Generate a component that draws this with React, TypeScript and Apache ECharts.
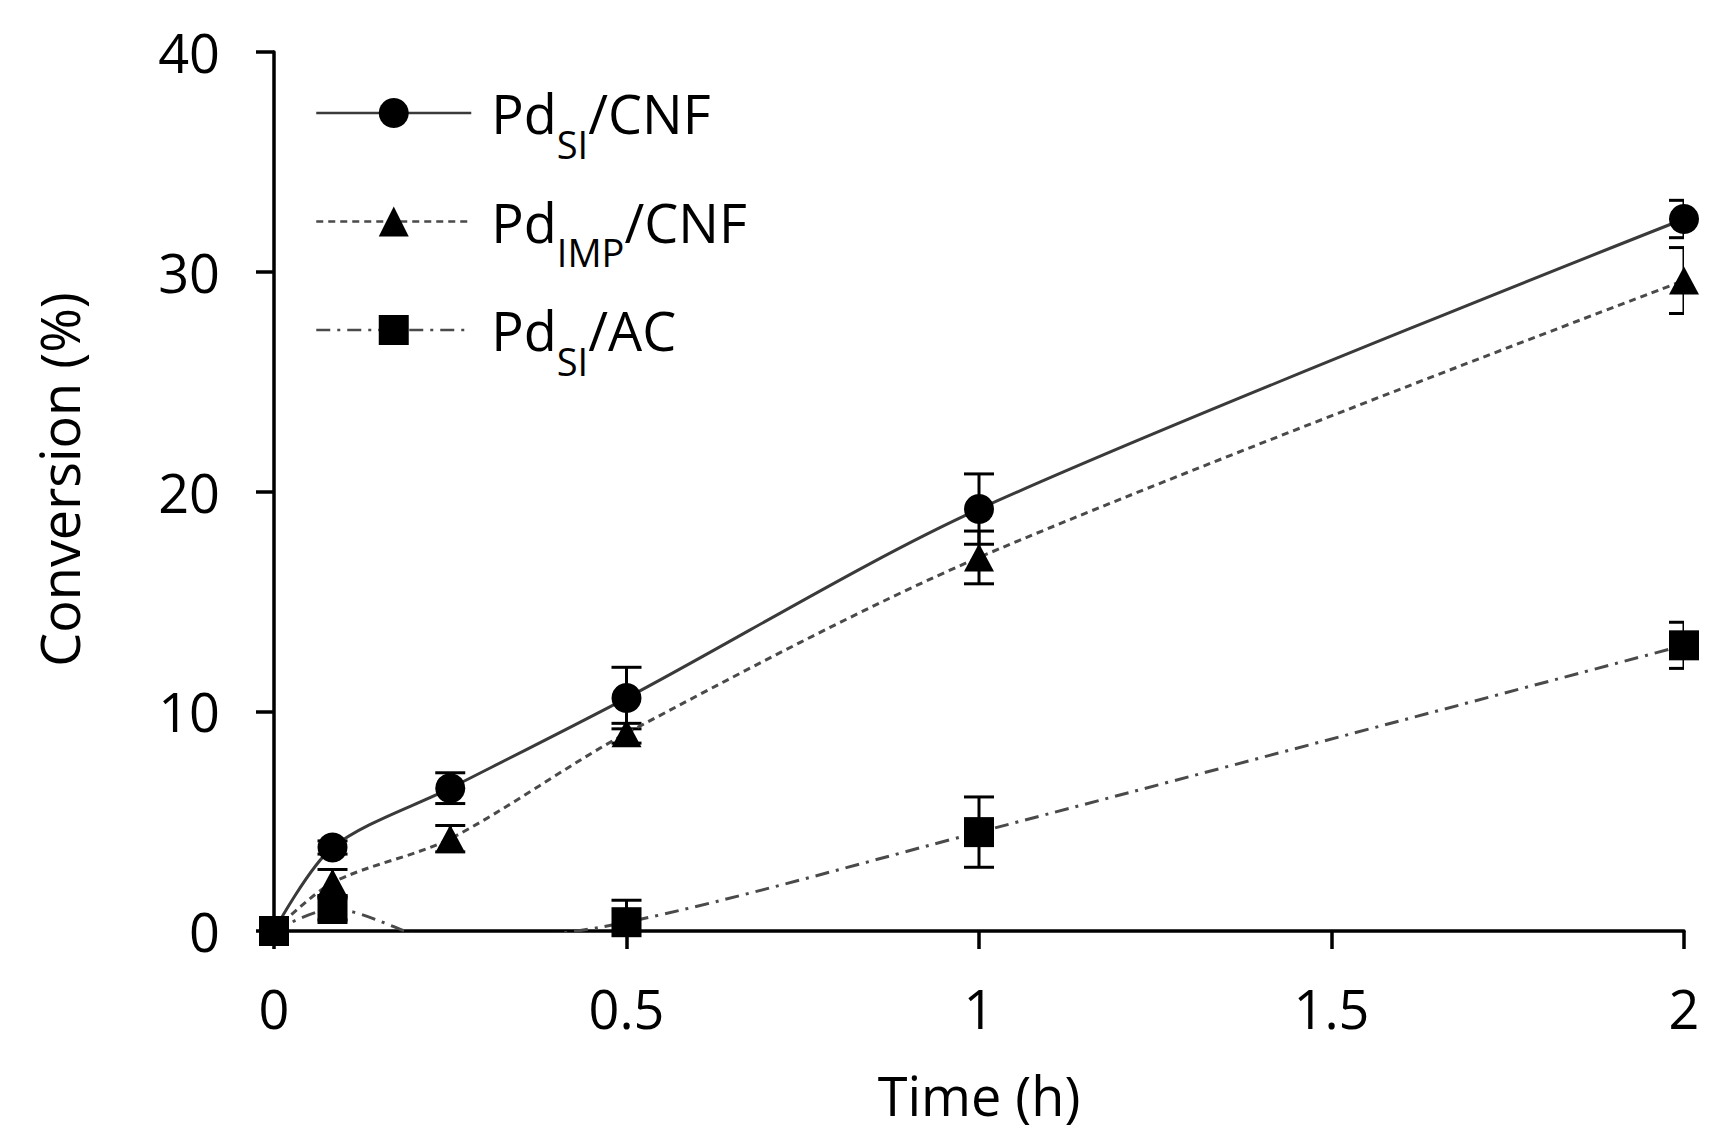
import React, { useEffect, useRef } from 'react';
import * as echarts from 'echarts';

// ---- data ----
const times = [0, 0.083, 0.25, 0.5, 1, 2];
const siCnf = [0, 3.8, 6.5, 10.6, 19.2, 32.4];
const siCnfErr = [0, 0.3, 0.7, 1.4, 1.6, 0.85];
const impCnf = [0, 2.2, 4.2, 9.0, 17.0, 29.6];
const impCnfErr = [0, 0.6, 0.6, 0.45, 1.2, 1.5];
const siAc = [0, 1.0, -0.5, 0.4, 4.5, 13.0];
const siAcErr = [0, 0.5, 0, 1.0, 1.6, 1.05];

const seriesNames = ['PdSI/CNF', 'PdIMP/CNF', 'PdSI/AC'];
const legendRich = ['{m|Pd}{s|SI}/CNF', '{m|Pd}{s|IMP}/CNF', '{m|Pd}{s|SI}/AC'];
const xTitle = 'Time (h)';
const yTitle = 'Conversion (%)';

const FONT = '"Open Sans", "Noto Sans", sans-serif';

function pairs(vals: number[]) {
  return times.map((t, i) => [t, vals[i]]);
}
function errData(vals: number[], errs: number[]) {
  return times.map((t, i) => [t, vals[i] - errs[i], vals[i] + errs[i], errs[i]]);
}

const errorBarSeries = (vals: number[], errs: number[]) => ({
  type: 'custom',
  data: errData(vals, errs),
  encode: { x: 0, y: [1, 2] },
  clip: true,
  z: 4,
  silent: true,
  renderItem: (params: any, api: any) => {
    const e = api.value(3);
    if (!e) return { type: 'group', children: [] };
    const x = api.value(0);
    const lo = api.coord([x, api.value(1)]);
    const hi = api.coord([x, api.value(2)]);
    const hw = 15;
    const st = { stroke: '#000', lineWidth: 3 };
    return {
      type: 'group',
      children: [
        { type: 'line', shape: { x1: hi[0], y1: hi[1], x2: lo[0], y2: lo[1] }, style: st },
        { type: 'line', shape: { x1: hi[0] - hw, y1: hi[1], x2: hi[0] + hw, y2: hi[1] }, style: st },
        { type: 'line', shape: { x1: lo[0] - hw, y1: lo[1], x2: lo[0] + hw, y2: lo[1] }, style: st },
      ],
    };
  },
});

export default function App() {
  const ref = useRef<HTMLDivElement>(null);
  useEffect(() => {
    document.body.style.margin = '0';
    const chart = echarts.init(ref.current!, null, { renderer: 'svg' });
    const legendMap: Record<string, string> = {};
    seriesNames.forEach((n, i) => (legendMap[n] = legendRich[i]));
    const axisLineStyle = { color: '#000', width: 3.5 };
    chart.setOption({
      animation: false,
      backgroundColor: '#fff',
      grid: { left: 274, top: 52, width: 1410, height: 879, containLabel: false, outerBoundsMode: 'none' },
      legend: {
        orient: 'vertical',
        left: 315,
        top: 86,
        padding: 0,
        itemGap: 32,
        itemWidth: 155,
        itemHeight: 37.5,
        selectedMode: false,
        data: seriesNames,
        formatter: (n: string) => legendMap[n],
        lineStyle: { width: 2.5 },
        textStyle: {
          fontFamily: FONT,
          fontSize: 54,
          color: '#000',
          rich: {
            m: { fontFamily: FONT, fontSize: 54, color: '#000', padding: [0, 0, 0, 15] },
            s: { fontFamily: FONT, fontSize: 38, color: '#000', padding: [61, 0, 0, 0] },
          },
        },
      },
      xAxis: {
        type: 'value',
        min: 0,
        max: 2,
        interval: 0.5,
        name: xTitle,
        nameLocation: 'middle',
        nameGap: 137,
        nameTextStyle: { fontFamily: FONT, fontSize: 54, color: '#000' },
        axisLine: { show: true, lineStyle: axisLineStyle },
        axisTick: { show: true, inside: false, length: 18, lineStyle: axisLineStyle },
        axisLabel: { fontFamily: FONT, fontSize: 54, color: '#000', margin: 50 },
        splitLine: { show: false },
      },
      yAxis: {
        type: 'value',
        min: 0,
        max: 40,
        interval: 10,
        name: yTitle,
        nameLocation: 'middle',
        nameGap: 188,
        nameTextStyle: { fontFamily: FONT, fontSize: 54, color: '#000', padding: [0, 0, 0, 24] },
        axisLine: { show: true, lineStyle: axisLineStyle },
        axisTick: { show: true, inside: false, length: 18, lineStyle: axisLineStyle },
        axisLabel: { fontFamily: FONT, fontSize: 54, color: '#000', margin: 54 },
        splitLine: { show: false },
      },
      series: [
        errorBarSeries(siCnf, siCnfErr),
        errorBarSeries(impCnf, impCnfErr),
        errorBarSeries(siAc, siAcErr),
        {
          name: seriesNames[0],
          type: 'line',
          data: pairs(siCnf),
          smooth: 0.3,
          clip: true,
          symbol: 'circle',
          symbolSize: 30,
          itemStyle: { color: '#000' },
          lineStyle: { color: '#3a3a3a', width: 3, type: 'solid' },
          z: 5,
        },
        {
          name: seriesNames[1],
          type: 'line',
          data: pairs(impCnf),
          smooth: 0.3,
          clip: true,
          symbol: 'triangle',
          symbolSize: [30, 28],
          itemStyle: { color: '#000' },
          lineStyle: { color: '#4a4a4a', width: 3, type: [7, 5] },
          z: 5,
        },
        {
          name: seriesNames[2],
          type: 'line',
          data: pairs(siAc),
          smooth: 0.3,
          clip: true,
          symbol: 'rect',
          symbolSize: 30,
          itemStyle: { color: '#000' },
          lineStyle: { color: '#4a4a4a', width: 3, type: [14, 7, 3, 7] },
          z: 5,
        },
      ],
    });
    return () => chart.dispose();
  }, []);
  return (
    <div
      ref={ref}
      style={{ position: 'fixed', left: 0, top: 0, width: 1728, height: 1142, background: '#fff' }}
    />
  );
}
